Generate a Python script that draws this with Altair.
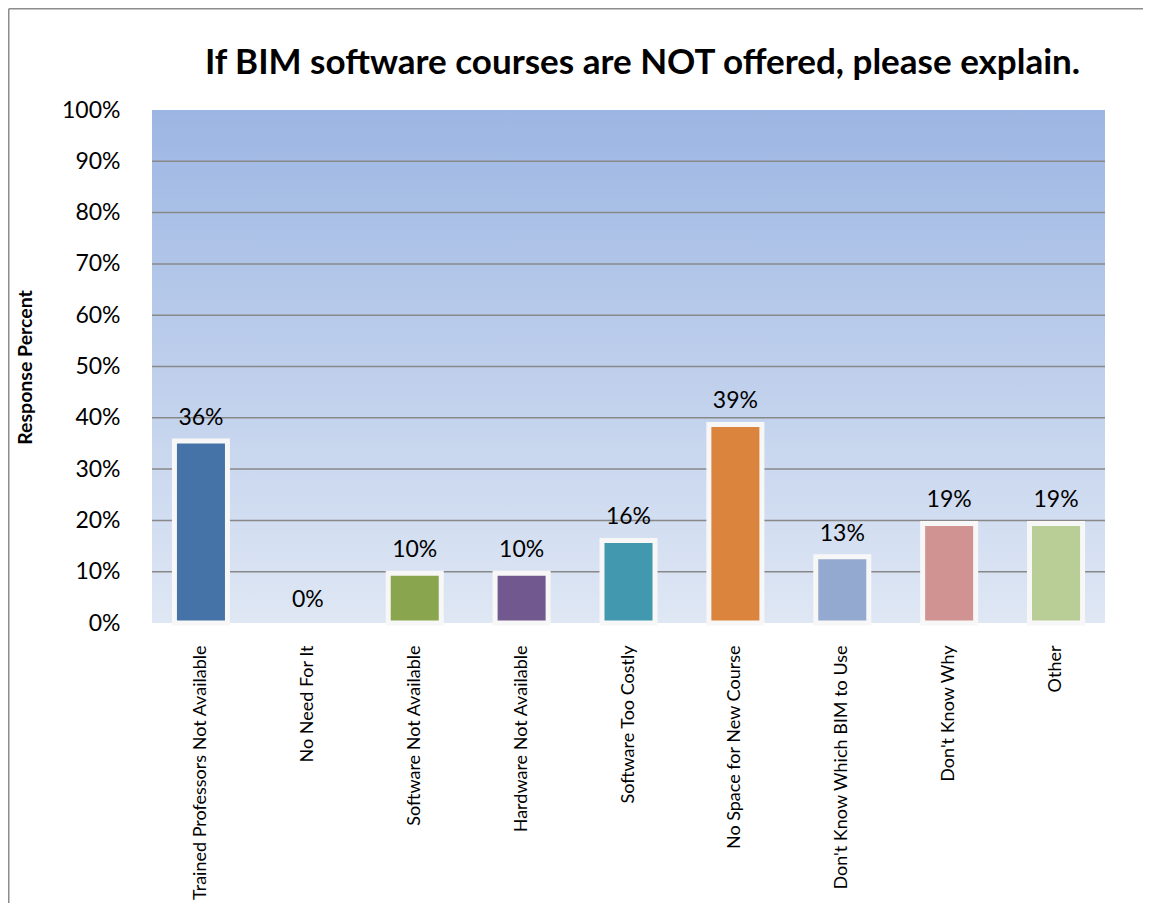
import altair as alt
import pandas as pd

categories = [
    "Trained Professors Not  Available",
    "No Need For It",
    "Software Not Available",
    "Hardware Not Available",
    "Software Too Costly",
    "No Space for New Course",
    "Don't Know  Which BIM to Use",
    "Don't Know  Why",
    "Other",
]
percents = [35.5, 0.0, 9.7, 9.7, 16.1, 38.7, 12.9, 19.4, 19.4]
colors = ["#4572A7", "#AA4643", "#89A54E", "#71588F", "#4198AF", "#DB843D", "#93A9CF", "#D19392", "#B9CD96"]
tick_values = list(range(0, 101, 10))
grid_values = list(range(10, 100, 10))

df = pd.DataFrame({"cat": categories, "pct": percents, "color": colors})
grid_df = pd.DataFrame({"v": grid_values})

W, H = 953, 513
PL, PT, PR, PB = 144, 102, 38, 280

xscale = alt.Scale(domain=categories, paddingInner=0.504, paddingOuter=0.21)
yscale = alt.Scale(domain=[0, 100], nice=False)

one = pd.DataFrame({"a": [0]})

background = alt.Chart(one).mark_rect(
    fill=alt.Gradient(gradient="linear", x1=0, x2=0, y1=0, y2=1,
                      stops=[alt.GradientStop(color="#9cb6e3", offset=0),
                             alt.GradientStop(color="#dfe7f4", offset=1)]),
    strokeWidth=0,
).encode(x=alt.value(0), x2=alt.value(W), y=alt.value(0), y2=alt.value(H))

grid = alt.Chart(grid_df).mark_rule(color="#888888", strokeWidth=1.5).encode(
    y=alt.Y("v:Q", scale=yscale),
    x=alt.value(0), x2=alt.value(W),
)

base = alt.Chart(df)

bars = base.mark_bar(stroke="#f7f7f7", strokeWidth=5).encode(
    x=alt.X("cat:N", scale=xscale, sort=categories,
            axis=alt.Axis(title=None, labelAngle=-90, labelAlign="right", labelBaseline="middle",
                          labelFont="Lato", labelFontSize=18, labelColor="black",
                          labelPadding=22, ticks=False, domain=False, grid=False, labelLimit=400)),
    y=alt.Y("pct:Q", scale=yscale,
            axis=alt.Axis(values=tick_values, labelExpr="datum.value + '%'",
                          title="Response Percent", titleFont="Lato", titleFontSize=19.5,
                          titleFontWeight="bold", titleColor="black", titleAngle=-90,
                          titleX=-127, titleY=257, titleAlign="center", titleBaseline="middle",
                          labelFont="Lato", labelFontSize=23, labelColor="black",
                          labelPadding=32, ticks=False, domain=False, grid=False)),
    color=alt.Color("color:N", scale=None),
    strokeOpacity=alt.condition("datum.pct > 0", alt.value(1), alt.value(0)),
)

labels = base.transform_calculate(
    label="round(datum.pct) + '%'"
).mark_text(font="Lato", fontSize=23, color="black", baseline="alphabetic", dy=-16).encode(
    x=alt.X("cat:N", scale=xscale, sort=categories),
    y=alt.Y("pct:Q", scale=yscale),
    text="label:N",
)

top_line = alt.Chart(one).mark_rule(color="#8c8c8c", strokeWidth=1.5).encode(
    x=alt.value(-PL + 0.75), x2=alt.value(W + PR), y=alt.value(-PT + 0.75)
)
left_line = alt.Chart(one).mark_rule(color="#8c8c8c", strokeWidth=1.5).encode(
    x=alt.value(-PL + 0.75), y=alt.value(-PT + 0.75), y2=alt.value(H + PB)
)

chart = alt.layer(background, grid, bars, labels, top_line, left_line).properties(
    width=W, height=H,
    title=alt.TitleParams(
        "If BIM software courses are NOT offered, please explain.",
        font="Lato", fontSize=35, fontWeight="bold", color="black",
        anchor="middle", dx=14, offset=0, dy=101, baseline="alphabetic",
    ),
    autosize=alt.AutoSizeParams(type="none"),
    padding={"left": PL, "top": PT, "right": PR, "bottom": PB},
).configure_view(stroke=None)

chart.save("out.html", embed_options={"renderer": "svg", "actions": False})
